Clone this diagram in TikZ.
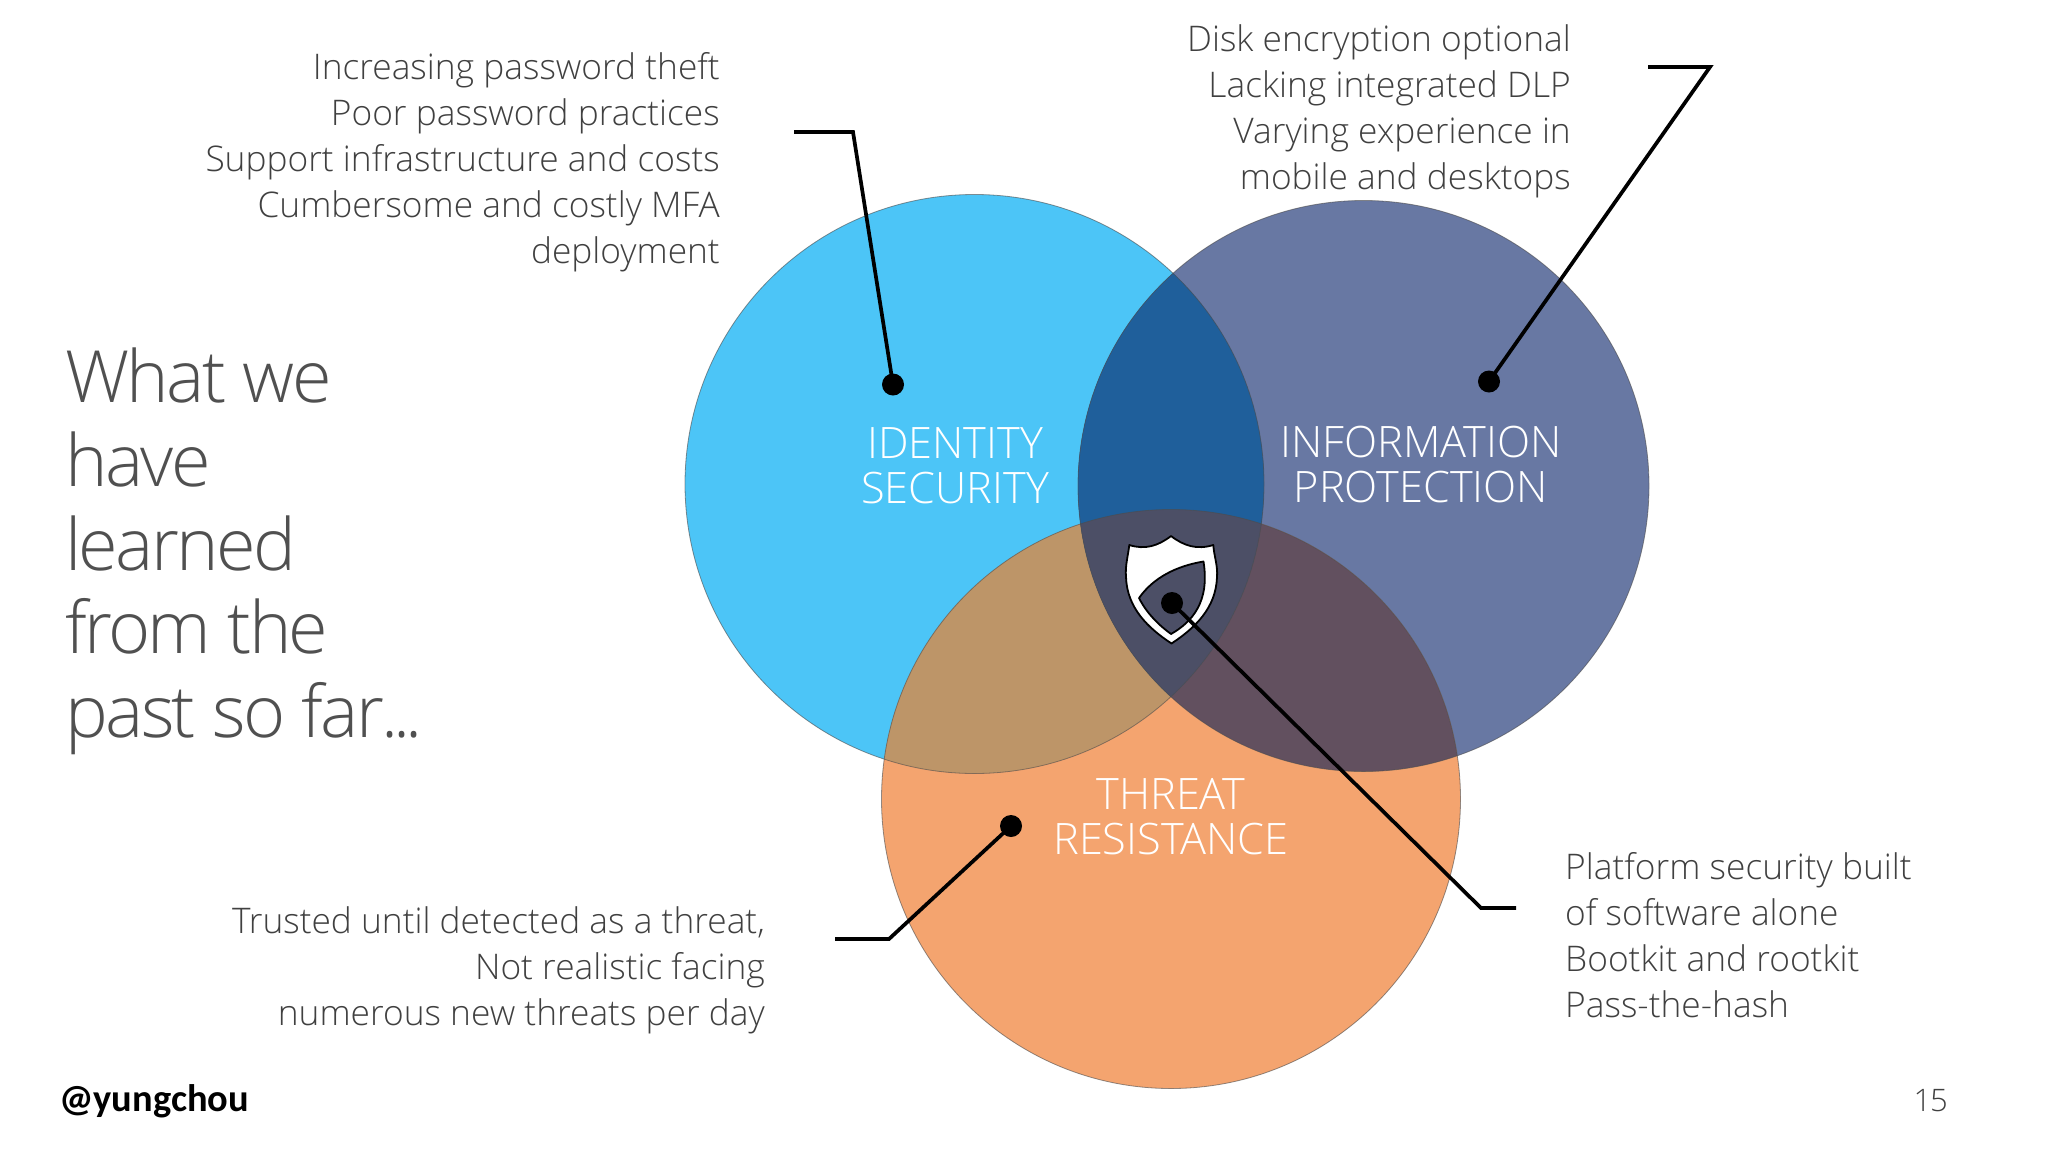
\documentclass[tikz,border=0pt]{standalone}
\usepackage{fontspec}
\setmainfont{Open Sans Light}
\newfontfamily\handlefont{Carlito}
\newfontfamily\titlefont[LetterSpace=-3.6]{Open Sans Light}
\definecolor{cblue}{HTML}{4CC5F7}
\definecolor{cnavy}{HTML}{6878A3}
\definecolor{corange}{HTML}{F4A46F}
\definecolor{cbn}{HTML}{1F5F9B}
\definecolor{cbo}{HTML}{BD9568}
\definecolor{cno}{HTML}{62505F}
\definecolor{cmid}{HTML}{4C4F66}
\definecolor{ctext}{HTML}{404040}
\definecolor{ctitle}{HTML}{505050}
\tikzset{
  note/.style={inner sep=0pt,text=ctext,font=\fontsize{35.3}{46}\selectfont},
  circlabel/.style={inner sep=0pt,text=white,align=center,font=\fontsize{43.3}{45}\selectfont},
  ring/.style={draw=black!70,draw opacity=.6,line width=.8pt},
  lead/.style={draw=black,line width=3.7pt,line join=miter},
  pin/.style={circle,fill=black,inner sep=0pt,minimum size=22pt}
}
\begin{document}
\begin{tikzpicture}[x=1pt,y=-1pt]
\useasboundingbox (0,0) rectangle (2048,1152);
\fill[white] (0,0) rectangle (2048,1152);
\def\cA{(974.5,484) circle[radius=289.5]}
\def\cB{(1363.5,486) circle[radius=285.5]}
\def\cC{(1171,799) circle[radius=289.5]}
\fill[cblue] \cA;
\fill[cnavy] \cB;
\fill[corange] \cC;
\begin{scope}\clip \cA; \fill[cbn] \cB; \fill[cbo] \cC; \end{scope}
\begin{scope}\clip \cB; \fill[cno] \cC; \end{scope}
\begin{scope}\clip \cA; \clip \cB; \fill[cbn] \cA; \fill[cmid] \cC; \end{scope}
\draw[ring] \cA; \draw[ring] \cB; \draw[ring] \cC;

% shield
\filldraw[fill=white,draw=black,line width=1.8pt,line join=round]
 (1171,536) .. controls (1158,546) and (1145,550) .. (1129.3,545)
 .. controls (1128,556) and (1125,566) .. (1126,577)
 .. controls (1127,608) and (1148,628) .. (1171.5,643.5)
 .. controls (1195,628) and (1216,608) .. (1217,577)
 .. controls (1218,566) and (1214,556) .. (1213.3,545)
 .. controls (1197,550) and (1184,546) .. (1171,536) -- cycle;
\filldraw[fill=cmid,draw=black,line width=1.8pt,line join=round]
 (1203.5,561.5) .. controls (1176,566) and (1153,578) .. (1139,598)
 .. controls (1147,614) and (1160,626) .. (1171,634)
 .. controls (1192,622) and (1210,602) .. (1203.5,561.5) -- cycle;

% pins and leaders
\node[pin] (pinA) at (893,384.5) {};
\node[pin] (pinB) at (1489,381.5) {};
\node[pin] (pinC) at (1011,826) {};
\node[pin] (pinD) at (1172,603) {};
\coordinate (a1) at (794,132); \coordinate (a2) at (853,132);
\coordinate (b1) at (1648,67); \coordinate (b2) at (1710,67);
\coordinate (c1) at (835,939); \coordinate (c2) at (889,939);
\coordinate (d1) at (1516,908); \coordinate (d2) at (1481,908);
\draw[lead] (a1) -- (a2) -- (pinA.center);
\draw[lead] (b1) -- (b2) -- (pinB.center);
\draw[lead] (c1) -- (c2) -- (pinC.center);
\draw[lead] (d1) -- (d2) -- (pinD.center);

% labels
\node[circlabel] (lblA) at (955,466) {IDENTITY\\SECURITY};
\node[circlabel] (lblB) at (1421,465) {INFORMATION\\PROTECTION};
\node[circlabel] (lblC) at (1171,817) {THREAT\\RESISTANCE};

\node[note,anchor=north east,align=right] (noteA) at (720,52) {Increasing password theft\\Poor password practices\\Support infrastructure and costs\\Cumbersome and costly MFA\\deployment};
\node[note,anchor=north east,align=right] (noteB) at (1571,24) {Disk encryption optional\\Lacking integrated DLP\\Varying experience in\\mobile and desktops};
\node[note,anchor=north east,align=right] (noteC) at (765,906) {Trusted until detected as a threat,\\Not realistic facing\\numerous new threats per day};
\node[note,anchor=north west,align=left] (noteD) at (1565,852) {Platform security built\\of software alone\\Bootkit and rootkit\\Pass-the-hash};

\node[inner sep=0pt,anchor=north west,align=left,text=ctitle,font=\titlefont\fontsize{72}{83.6}\selectfont] (title) at (65,348) {What we\\have\\learned\\from the\\past so far.\kern-.07em.\kern-.07em.};
\node[inner sep=0pt,anchor=base west,text=black,font=\handlefont\bfseries\fontsize{38.4}{40}\selectfont] (handle) at (59,1111) {@yungchou};
\node[inner sep=0pt,anchor=base east,text=ctext,font=\titlefont\fontsize{31}{36}\selectfont] (page) at (1948,1111) {15};
\end{tikzpicture}
\end{document}
